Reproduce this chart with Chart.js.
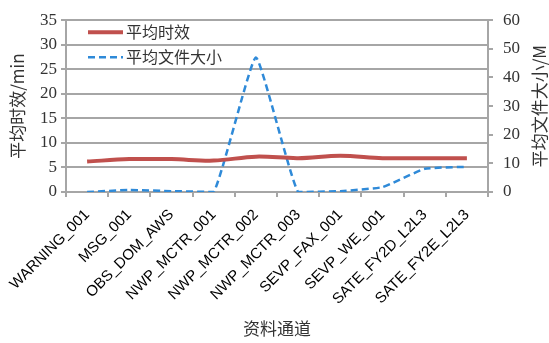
<!DOCTYPE html>
<html><head><meta charset="utf-8">
<script src="https://cdn.jsdelivr.net/npm/chart.js@4/dist/chart.umd.min.js"></script>
<style>html,body{margin:0;padding:0;background:#fff}#wrap{width:549px;height:343px}</style>
</head><body><div id="wrap"><canvas id="c" width="549" height="343"></canvas></div>
<script>
const categories = ["WARNING_001","MSG_001","OBS_DOM_AWS","NWP_MCTR_001","NWP_MCTR_002","NWP_MCTR_003","SEVP_FAX_001","SEVP_WE_001","SATE_FY2D_L2L3","SATE_FY2E_L2L3"];
const avgTime = [6.2, 6.7, 6.7, 6.4, 7.2, 6.9, 7.4, 6.9, 6.9, 6.9];
const avgSize = [0, 0.7, 0.3, 0, 47, 0, 0.3, 1.7, 8.1, 8.8];
const seriesNames = ["平均时效", "平均文件大小"];
const leftTitle = "平均时效/min";
const rightTitle = "平均文件大小/M";
const xTitle = "资料通道";

const RED = "#c0504d", BLUE = "#2f8ad8", GRID = "#a6a6a6";
const cjk = "'Noto Sans CJK SC', sans-serif";
const serif = "'Liberation Serif', serif";

const legendPlugin = {
  id: 'inLegend',
  afterDatasetsDraw(chart) {
    const ctx = chart.ctx, a = chart.chartArea;
    const x0 = a.left + 22, x1 = a.left + 57;
    const rows = [{y: a.top + 12, color: RED, w: 4, dash: []}, {y: a.top + 37, color: BLUE, w: 2.5, dash: [7,4]}];
    ctx.save();
    rows.forEach((r, i) => {
      ctx.beginPath(); ctx.strokeStyle = r.color; ctx.lineWidth = r.w; ctx.setLineDash(r.dash);
      ctx.moveTo(x0, r.y); ctx.lineTo(x1, r.y); ctx.stroke();
      ctx.setLineDash([]);
      ctx.fillStyle = '#333'; ctx.font = "16px " + cjk; ctx.textBaseline = 'middle'; ctx.textAlign = 'left';
      ctx.fillText(seriesNames[i], x1 + 3, r.y);
    });
    // right axis title, reading bottom-to-top like the left one
    const cx = 540, cy = (a.top + a.bottom) / 2;
    ctx.translate(cx, cy); ctx.rotate(-Math.PI / 2);
    ctx.font = "17px " + cjk; ctx.textAlign = 'center'; ctx.textBaseline = 'middle'; ctx.fillStyle = '#333';
    ctx.fillText(rightTitle, 0, 0);
    ctx.restore();
  }
};

new Chart(document.getElementById('c'), {
  type: 'line',
  data: {
    labels: categories,
    datasets: [
      {label: seriesNames[0], data: avgTime, yAxisID: 'y', borderColor: RED, borderWidth: 4, pointRadius: 0, tension: 0.35, fill: false},
      {label: seriesNames[1], data: avgSize, yAxisID: 'y1', borderColor: BLUE, borderWidth: 2.5, borderDash: [7,4], pointRadius: 0, tension: 0.12, fill: false}
    ]
  },
  plugins: [legendPlugin],
  options: {
    responsive: false, animation: false,
    layout: {padding: {top: 15, left: 0, right: 0, bottom: 0}},
    plugins: {legend: {display: false}, tooltip: {enabled: false}},
    scales: {
      x: {
        offset: true,
        grid: {display: true, drawOnChartArea: false, offset: true, color: GRID, lineWidth: 2, tickLength: 5},
        border: {color: GRID, width: 2},
        ticks: {color: '#000', font: {family: "'Liberation Sans', sans-serif", size: 15}, minRotation: 45, maxRotation: 45, autoSkip: false, padding: 9},
        title: {display: true, text: xTitle, color: '#333', font: {family: cjk, size: 17}, padding: {top: 0, bottom: 4}},
        afterFit(s) { s.height = 151; }
      },
      y: {
        position: 'left', min: 0, max: 35,
        ticks: {stepSize: 5, color: '#333', font: {family: serif, size: 17}, padding: 4},
        grid: {color: GRID, lineWidth: 2, tickLength: 5},
        border: {color: GRID, width: 2},
        title: {display: true, text: leftTitle, color: '#333', font: {family: cjk, size: 17}, padding: {top: 7, bottom: 2}},
        afterFit(s) { s.width = 66; }
      },
      y1: {
        position: 'right', min: 0, max: 60,
        ticks: {stepSize: 10, color: '#333', font: {family: serif, size: 17}, padding: 10},
        grid: {drawOnChartArea: false, color: GRID, lineWidth: 2, tickLength: 5},
        border: {color: GRID, width: 2},
        title: {display: false},
        afterFit(s) { s.width = 61; }
      }
    }
  }
});
</script></body></html>
